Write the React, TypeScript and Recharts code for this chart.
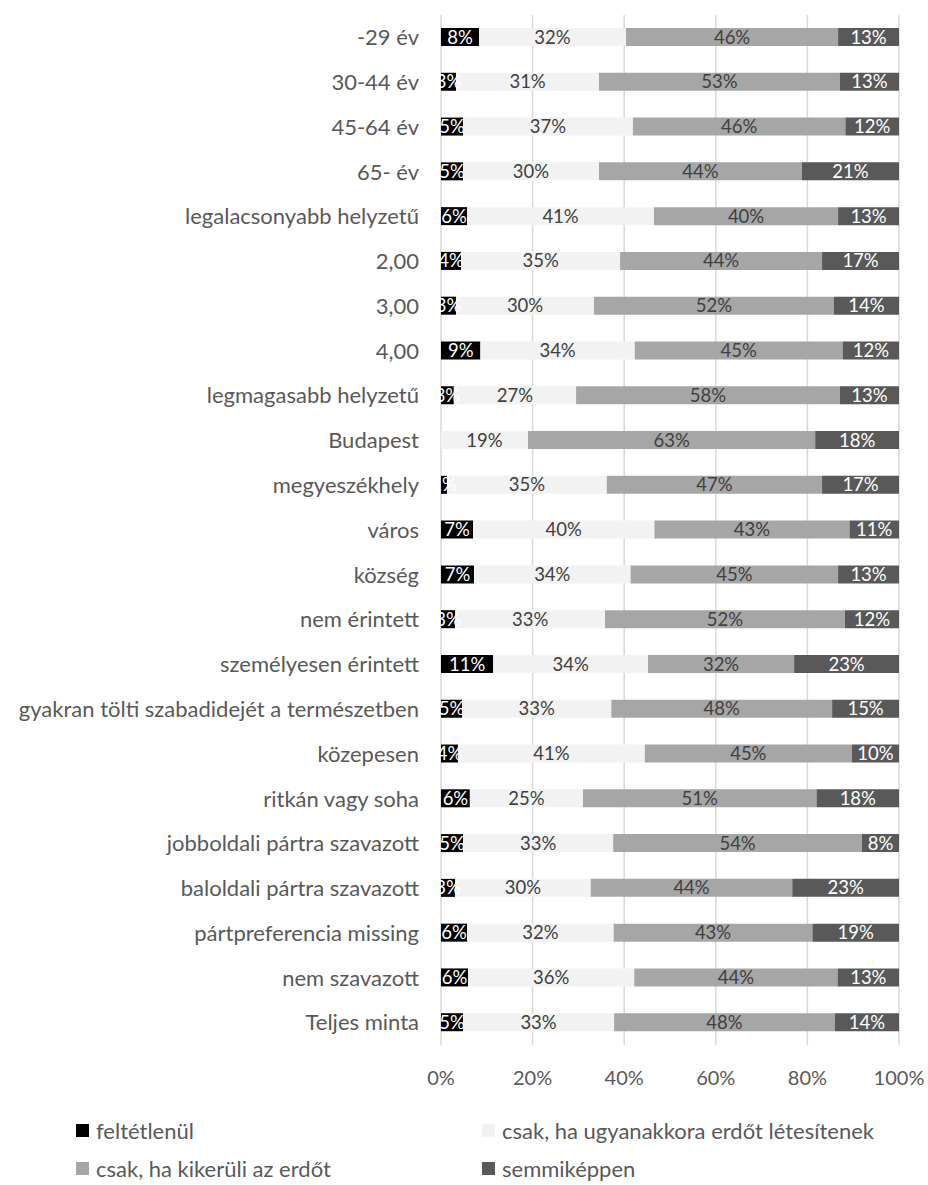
import { BarChart, Bar, XAxis, YAxis, CartesianGrid, LabelList } from 'recharts'

const categories = [
  '-29 év',
  '30-44 év',
  '45-64 év',
  '65- év',
  'legalacsonyabb helyzetű',
  '2,00',
  '3,00',
  '4,00',
  'legmagasabb helyzetű',
  'Budapest',
  'megyeszékhely',
  'város',
  'község',
  'nem érintett',
  'személyesen érintett',
  'gyakran tölti szabadidejét a természetben',
  'közepesen',
  'ritkán vagy soha',
  'jobboldali pártra szavazott',
  'baloldali pártra szavazott',
  'pártpreferencia missing',
  'nem szavazott',
  'Teljes minta',
]

const feltetlenul = [8.3, 3.3, 4.8, 4.8, 5.7, 4.4, 3.3, 8.6, 2.8, 0, 1.3, 7.0, 7.2, 3.1, 11.4, 4.6, 3.7, 6.3, 4.8, 3.1, 5.7, 5.9, 4.8]
const ugyanakkora = [32.1, 31.2, 37.1, 29.7, 40.8, 34.7, 30.1, 33.7, 26.7, 19.0, 34.9, 39.6, 34.2, 32.7, 33.8, 32.6, 40.8, 24.7, 32.8, 29.6, 32.0, 36.3, 33.0]
const kikeruli = [46.3, 52.6, 46.4, 44.3, 40.2, 44.1, 52.4, 45.4, 57.6, 62.7, 47.0, 42.6, 45.3, 52.4, 31.9, 48.2, 45.2, 51.0, 54.3, 44.0, 43.4, 44.4, 48.2]
const semmikeppen = [13.3, 12.9, 11.7, 21.2, 13.3, 16.8, 14.2, 12.3, 12.9, 18.3, 16.8, 10.8, 13.3, 11.8, 22.9, 14.6, 10.3, 18.0, 8.1, 23.3, 18.9, 13.4, 14.0]

const xTicks = [0, 20, 40, 60, 80, 100]

const series = [
  { key: 'feltetlenul', name: 'feltétlenül', values: feltetlenul, color: '#000000', labelColor: '#ffffff' },
  { key: 'ugyanakkora', name: 'csak, ha ugyanakkora erdőt létesítenek', values: ugyanakkora, color: '#f2f2f2', labelColor: '#404040' },
  { key: 'kikeruli', name: 'csak, ha kikerüli az erdőt', values: kikeruli, color: '#a6a6a6', labelColor: '#404040' },
  { key: 'semmikeppen', name: 'semmiképpen', values: semmikeppen, color: '#595959', labelColor: '#ffffff' },
]

const data = categories.map((name, i) => {
  const row: Record<string, string | number> = { name }
  series.forEach((s) => {
    row[s.key] = s.values[i]
  })
  return row
})

const font = 'Lato, sans-serif'

// legend: two columns, two rows
const legendPos = [
  { x: 76, y: 1130 },
  { x: 482, y: 1130 },
  { x: 76, y: 1168 },
  { x: 482, y: 1168 },
]

export default function App() {
  return (
    <div style={{ position: 'absolute', left: 0, top: 0, width: 928, height: 1185, background: '#fff', fontFamily: font }}>
      <BarChart
        width={928}
        height={1091}
        data={data}
        layout="vertical"
        margin={{ top: 15, right: 29, bottom: 0, left: 0 }}
        barSize={18}
      >
        <CartesianGrid horizontal={false} stroke="#d9d9d9" strokeWidth={1.5} />
        <XAxis
          type="number"
          domain={[0, 100]}
          ticks={xTicks}
          tickFormatter={(v) => `${v}%`}
          axisLine={false}
          tickLine={false}
          tickSize={0}
          tickMargin={26}
          height={46}
          tick={{ fill: '#595959', fontSize: 20, fontFamily: font }}
          allowDataOverflow
        />
        <YAxis
          type="category"
          dataKey="name"
          width={441}
          axisLine={false}
          tickLine={false}
          tickSize={0}
          tickMargin={22}
          interval={0}
          tick={{ fill: '#595959', fontSize: 22, fontFamily: font }}
        />
        {series.map((s) => (
          <Bar key={s.key} dataKey={s.key} name={s.name} stackId="a" fill={s.color} isAnimationActive={false}>
            <LabelList
              dataKey={s.key}
              position="center"
              formatter={(v: any) => `${Math.round(Number(v))}%`}
              fill={s.labelColor}
              style={{ fontSize: 18.5, fontFamily: font }}
            />
          </Bar>
        ))}
      </BarChart>
      {series.map((s, i) => (
        <div
          key={s.key}
          style={{
            position: 'absolute',
            left: legendPos[i].x,
            top: legendPos[i].y - 14,
            height: 28,
            display: 'flex',
            alignItems: 'center',
            whiteSpace: 'nowrap',
            fontSize: 22,
            color: '#595959',
          }}
        >
          <span style={{ display: 'inline-block', width: 13, height: 13, background: s.color, marginRight: 7 }} />
          {s.name}
        </div>
      ))}
    </div>
  )
}
